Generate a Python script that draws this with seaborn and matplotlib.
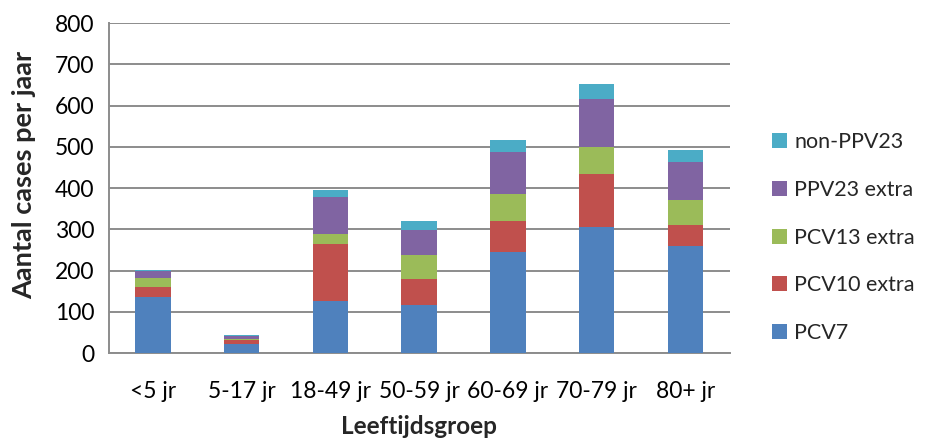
import numpy as np
import pandas as pd
import matplotlib
matplotlib.use("Agg")
import matplotlib.pyplot as plt
from matplotlib.patches import Patch
import seaborn as sns

# Age groups and yearly case counts per serotype group
groups = ["<5 jr", "5-17 jr", "18-49 jr", "50-59 jr", "60-69 jr", "70-79 jr", "80+ jr"]
pcv7 = [136, 23, 126, 116, 246, 306, 260]
pcv10_extra = [24, 9, 138, 63, 74, 128, 50]
pcv13_extra = [23, 1, 25, 58, 66, 65, 60]
ppv23_extra = [15, 9, 90, 61, 102, 118, 94]
non_ppv23 = [3, 2, 15, 22, 28, 35, 27]

series_names = ["PCV7", "PCV10 extra", "PCV13 extra", "PPV23 extra", "non-PPV23"]
series_vals = [pcv7, pcv10_extra, pcv13_extra, ppv23_extra, non_ppv23]
colors = ["#4F81BD", "#C0504D", "#9BBB59", "#8064A2", "#4BACC6"]

sns.set_style("white")
plt.rcParams["font.family"] = ["Lato", "DejaVu Sans"]

fig = plt.figure(figsize=(9.28, 4.41), dpi=100)
ax = fig.add_axes([0.117, 0.1995, 0.6693, 0.7483])

# Stacked bars: draw cumulative totals from the top segment downwards
cum = np.cumsum(np.array(series_vals), axis=0)
for i in range(len(series_names) - 1, -1, -1):
    df = pd.DataFrame({"group": groups, "value": cum[i]})
    sns.barplot(data=df, x="group", y="value", color=colors[i], width=0.4,
                saturation=1, ax=ax, zorder=3, edgecolor="none")

grid_col = "#8C8C8C"
ax.set_ylim(0, 800)
ax.set_xlim(-0.5, len(groups) - 0.5)
ax.set_yticks(np.arange(0, 801, 100))
ax.yaxis.grid(True, color=grid_col, linewidth=1.4, zorder=0)
ax.set_axisbelow(True)

for s in ["top", "right"]:
    ax.spines[s].set_visible(False)
for s in ["left", "bottom"]:
    ax.spines[s].set_color(grid_col)
    ax.spines[s].set_linewidth(1.4)

ax.tick_params(axis="y", length=5, width=1.4, color=grid_col, labelsize=16.5,
               pad=5, labelcolor="black")
ax.tick_params(axis="x", which="major", length=0, labelsize=16.5, pad=20,
               labelcolor="black")
ax.set_xticks(np.arange(-0.5, len(groups), 1.0), minor=True)
ax.tick_params(axis="x", which="minor", length=7, width=1.4, color=grid_col)

ax.set_xlabel("")
ax.set_ylabel("")
fig.text(0.4513, 0.032, "Leeftijdsgroep", ha="center", va="center",
         fontsize=17.5, fontweight="bold")
fig.text(0.026, 0.603, "Aantal cases per jaar", ha="center", va="center",
         rotation=90, fontsize=19.5, fontweight="bold")

handles = [Patch(facecolor=colors[i], edgecolor="none", label=series_names[i])
           for i in range(len(series_names) - 1, -1, -1)]
fig.legend(handles=handles, loc="center left", bbox_to_anchor=(0.8316, 0.461),
           frameon=False, fontsize=15.5, handlelength=0.7, handleheight=0.7,
           handletextpad=0.35, labelspacing=1.29, borderaxespad=0, borderpad=0)

fig.savefig("out.png", dpi=100)
